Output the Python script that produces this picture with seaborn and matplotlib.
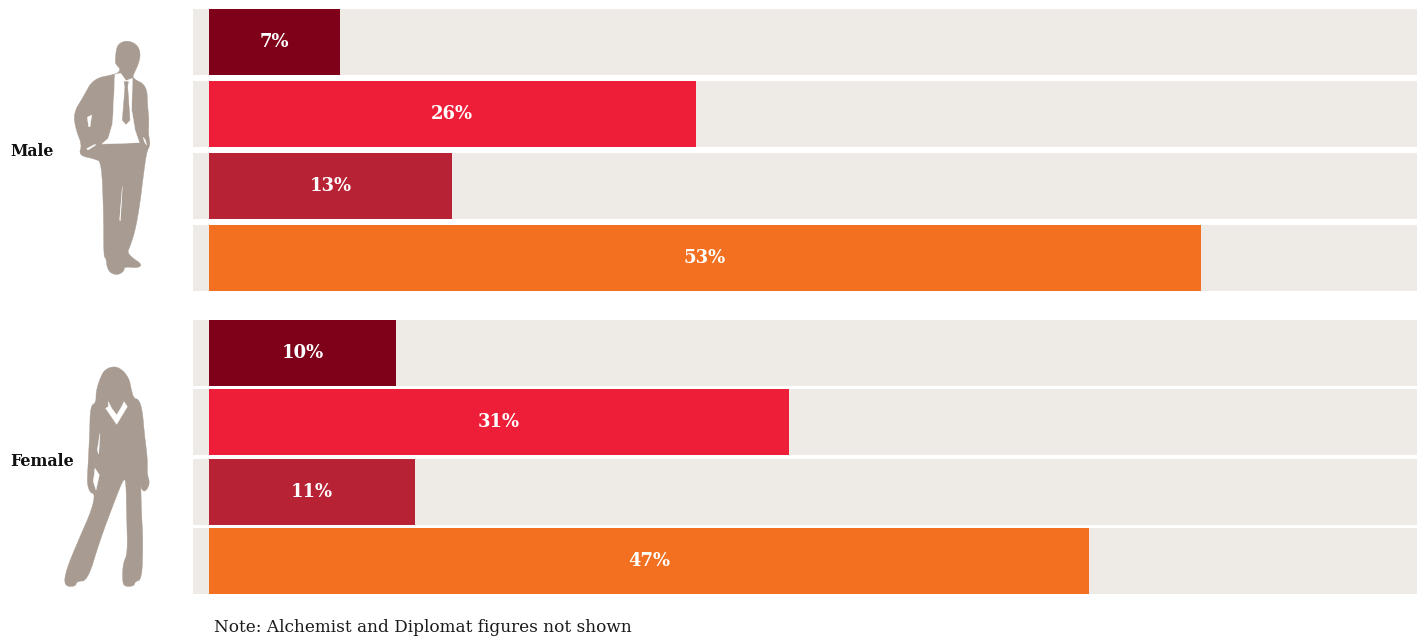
import matplotlib
matplotlib.use("Agg")
import matplotlib.pyplot as plt
from matplotlib.patches import Polygon
import pandas as pd
import seaborn as sns

W, H = 1427, 639

rows = ["a", "b", "c", "d"]
male_values = [7, 26, 13, 53]
female_values = [10, 31, 11, 47]
bar_colors = ["#7F0019", "#EF1E38", "#B82235", "#F47021"]
track_color = "#EEEBE6"
figure_color = "#A89C92"
note_text = "Note: Alchemist and Diplomat figures not shown"
TEXT_FONT = "DejaVu Serif"

sns.set_theme(style="white")
plt.rcParams["font.family"] = TEXT_FONT

PCT_PX = 18.72
ORIGIN_PX, TRACK_LEFT_PX, TRACK_RIGHT_PX = 209, 193, 1417
XMIN = (TRACK_LEFT_PX - ORIGIN_PX) / PCT_PX
XMAX = (TRACK_RIGHT_PX - ORIGIN_PX) / PCT_PX

fig = plt.figure(figsize=(W / 100, H / 100), dpi=100, facecolor="white")


def panel(top, bottom, values, bar_h_px):
    ax = fig.add_axes([TRACK_LEFT_PX / W, 1 - bottom / H,
                       (TRACK_RIGHT_PX - TRACK_LEFT_PX) / W, (bottom - top) / H])
    pitch = (bottom - top - bar_h_px) / 3
    width = bar_h_px / pitch
    df = pd.DataFrame({"row": rows, "share": values})
    ax.barh(range(4), [XMAX - XMIN] * 4, left=XMIN, height=width,
            color=track_color, linewidth=0, zorder=0)
    sns.barplot(data=df, y="row", x="share", hue="row", order=rows, hue_order=rows,
                palette=bar_colors, width=width, dodge=False, legend=False,
                saturation=1, linewidth=0, ax=ax, zorder=2)
    for container, v in zip(ax.containers[1:], values):
        ax.bar_label(container, labels=[f"{v}%"], label_type="center", color="white",
                     fontsize=13, fontweight="bold", family=TEXT_FONT, zorder=3)
    ax.set_xlim(XMIN, XMAX)
    half = width / 2
    ax.set_ylim(3 + half, -half)
    ax.set_axis_off()
    return ax


panel(9, 291, male_values, 66)
panel(320, 594, female_values, 66)

# Overlay in pixel coordinates for the row captions, the note and the silhouettes
over = fig.add_axes([0, 0, 1, 1], zorder=5)
over.set_xlim(0, W)
over.set_ylim(H, 0)
over.set_axis_off()
over.patch.set_alpha(0)


def rounded(points, passes=2):
    # Corner cutting gives the traced outlines soft edges
    for _ in range(passes):
        out = []
        for i, (x0, y0) in enumerate(points):
            x1, y1 = points[(i + 1) % len(points)]
            out.append((0.75 * x0 + 0.25 * x1, 0.75 * y0 + 0.25 * y1))
            out.append((0.25 * x0 + 0.75 * x1, 0.25 * y0 + 0.75 * y1))
        points = out
    return points


def shape(points, ox, oy, color, passes=0):
    px = [(x / 3 + ox, y / 3 + oy) for x, y in rounded(points, passes)]
    over.add_patch(Polygon(px, closed=True, facecolor=color, edgecolor=color,
                           linewidth=0.3, joinstyle="round"))


male_body = [(382, 32), (405, 40), (418, 56), (421, 80), (414, 105), (402, 130), (397, 145),
             (440, 166), (443, 230), (447, 270), (445, 310), (451, 345), (441, 362), (432, 420),
             (420, 520), (406, 600), (390, 650), (382, 666), (395, 682), (426, 703), (415, 714),
             (372, 710), (373, 722), (355, 735), (332, 730), (321, 712), (318, 684), (311, 680),
             (311, 560), (305, 397), (285, 387), (236, 376), (246, 345), (228, 300), (220, 250),
             (250, 200), (280, 146), (345, 133), (358, 125), (360, 115), (346, 102), (346, 85),
             (350, 50), (363, 37)]
male_shirt = [(345, 133), (362, 130), (378, 152), (397, 145), (395, 240), (405, 300), (418, 338),
              (306, 342), (325, 325), (338, 280), (342, 200)]
male_tie = [(372, 155), (385, 155), (383, 170), (390, 270), (378, 283), (367, 270), (375, 170)]
male_gaps = [[(262, 262), (275, 255), (270, 290), (266, 290)],
             [(260, 356), (285, 343), (287, 345), (264, 360)],
             [(367, 470), (361, 572), (359, 570)],
             [(430, 322), (436, 330), (440, 345), (433, 335)]]

shape(male_body, 0, 30, figure_color, passes=2)
shape(male_shirt, 0, 30, "white")
shape(male_tie, 0, 30, figure_color)
for gap in male_gaps:
    shape(gap, 0, 30, "white")

female_body = [(345, 48), (370, 62), (388, 88), (393, 115), (401, 145), (416, 148), (427, 180),
               (433, 250), (443, 330), (441, 370), (450, 400), (437, 425), (425, 420), (422, 400),
               (425, 500), (429, 570), (426, 688), (405, 695), (402, 708), (375, 710), (367, 695),
               (369, 640), (383, 610), (380, 500), (378, 392), (370, 387), (345, 450), (300, 570),
               (263, 692), (230, 694), (226, 710), (192, 708), (198, 660), (240, 560), (275, 480),
               (285, 432), (270, 428), (261, 400), (264, 350), (269, 250), (271, 168), (288, 158),
               (288, 125), (299, 88), (314, 58)]
female_gaps = [[(325, 155), (335, 175), (350, 195), (365, 170), (372, 155), (382, 170),
                (350, 223), (317, 175), (325, 170)],
               [(300, 250), (296, 312), (292, 300)],
               [(285, 355), (298, 375), (288, 420), (280, 395)]]

shape(female_body, 0, 350, figure_color, passes=2)
for gap in female_gaps:
    shape(gap, 0, 350, "white")

over.text(10, 152, "Male", fontsize=11.3, fontweight="bold", color="#111111", va="center", ha="left")
over.text(10, 461, "Female", fontsize=11.4, fontweight="bold", color="#111111", va="center", ha="left")
over.text(214, 628, note_text, fontsize=12.2, color="#1A1A1A", va="center", ha="left")

fig.savefig("out.png", dpi=100, facecolor="white")
